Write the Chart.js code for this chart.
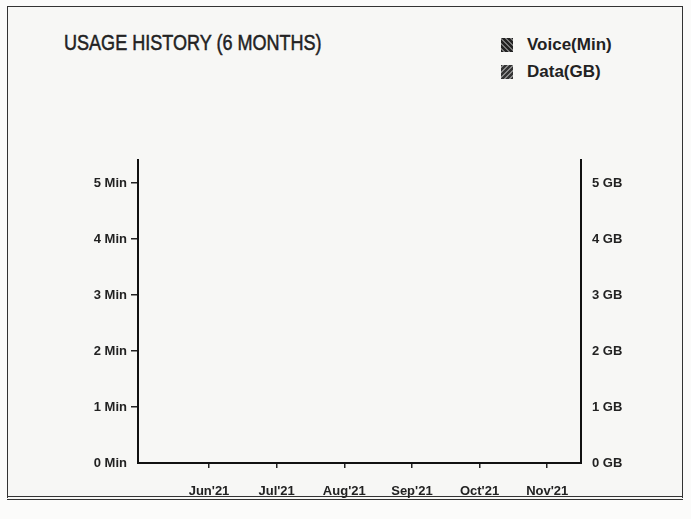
<!DOCTYPE html>
<html>
<head>
<meta charset="utf-8">
<script src="https://cdn.jsdelivr.net/npm/chart.js@4"></script>
<style>
  body { margin: 0; background: #fbfbfa; font-family: "Liberation Sans", Arial, sans-serif; }
  #wrap { position: relative; width: 691px; height: 519px; overflow: hidden; }
  #box {
    position: absolute; left: 7px; top: 6px; width: 674px; height: 489px;
    border: 1.5px solid #333; border-bottom: 4px double #333; background: #f7f7f5;
  }
  #title {
    position: absolute; left: 64px; top: 30px; font-size: 22px; color: #222;
    -webkit-text-stroke: 0.5px #222;
    transform: scaleX(0.82); transform-origin: left top; white-space: nowrap;
  }
  .leg { position: absolute; left: 501px; font-size: 17px; font-weight: bold; color: #222; }
  .leg span {
    display: inline-block; width: 12px; height: 14px; margin-right: 14px; vertical-align: -2px;
  }
  #legVoice { top: 35px; }
  #legData { top: 62px; }
  #legVoice span { background: repeating-linear-gradient(45deg, #222 0 2px, #777 2px 3.5px); }
  #legData span { background: repeating-linear-gradient(-45deg, #333 0 2px, #888 2px 3.5px); }
  canvas { position: absolute; left: 0; top: 0; }
</style>
</head>
<body>
<div id="wrap">
  <div id="box"></div>
  <div id="title">USAGE HISTORY (6 MONTHS)</div>
  <div class="leg" id="legVoice"><span></span>Voice(Min)</div>
  <div class="leg" id="legData"><span></span>Data(GB)</div>
  <canvas id="usage" width="691" height="519"></canvas>
</div>
<script>
// six months, nothing used yet
const months = ["Jun'21", "Jul'21", "Aug'21", "Sep'21", "Oct'21", "Nov'21"];
const voiceMin = [0, 0, 0, 0, 0, 0];
const dataGB = [0, 0, 0, 0, 0, 0];
const yTicks = [0, 1, 2, 3, 4, 5];

const tickFont = { family: "Liberation Sans", size: 13, weight: "bold" };

const onlyTicks = (scale) => {
  scale.ticks = yTicks.map((v) => ({ value: v }));
};

new Chart(document.getElementById("usage"), {
  type: "bar",
  data: {
    datasets: [
      {
        label: "Voice(Min)",
        data: voiceMin.map((v, i) => ({ x: i, y: v })),
        backgroundColor: "#555",
        yAxisID: "yMin",
      },
      {
        label: "Data(GB)",
        data: dataGB.map((v, i) => ({ x: i, y: v })),
        backgroundColor: "#777",
        yAxisID: "yGB",
      },
    ],
  },
  options: {
    responsive: false,
    animation: false,
    layout: { padding: { top: 160, left: 0, right: 0, bottom: 0 } },
    plugins: { legend: { display: false }, tooltip: { enabled: false } },
    scales: {
      x: {
        type: "linear",
        offset: false,
        min: -1.05,
        max: 5.5,
        afterBuildTicks: (scale) => {
          scale.ticks = months.map((m, i) => ({ value: i }));
        },
        afterFit: (scale) => {
          scale.height = 56;
        },
        ticks: {
          callback: (v) => months[v],
          font: tickFont,
          color: "#222",
          padding: 16,
          maxRotation: 0,
          autoSkip: false,
        },
        grid: { offset: false, drawOnChartArea: false, tickLength: 5, color: "#222", lineWidth: 1.5 },
        border: { color: "#111", width: 2 },
      },
      yMin: {
        position: "left",
        min: 0,
        max: 5.41,
        afterBuildTicks: onlyTicks,
        afterFit: (scale) => {
          scale.width = 138;
        },
        ticks: {
          callback: (v) => v + " Min",
          font: tickFont,
          color: "#222",
          padding: 4,
        },
        grid: {
          drawOnChartArea: false,
          tickLength: 7,
          lineWidth: 1.5,
          color: (ctx) => (ctx.tick && ctx.tick.value === 0 ? "rgba(0,0,0,0)" : "#222"),
        },
        border: { color: "#111", width: 2 },
      },
      yGB: {
        position: "right",
        min: 0,
        max: 5.41,
        afterBuildTicks: onlyTicks,
        afterFit: (scale) => {
          scale.width = 110;
        },
        ticks: {
          callback: (v) => v + " GB",
          font: tickFont,
          color: "#222",
          padding: 11,
        },
        grid: { display: false, drawTicks: false },
        border: { color: "#111", width: 2 },
      },
    },
  },
});
</script>
</body>
</html>
